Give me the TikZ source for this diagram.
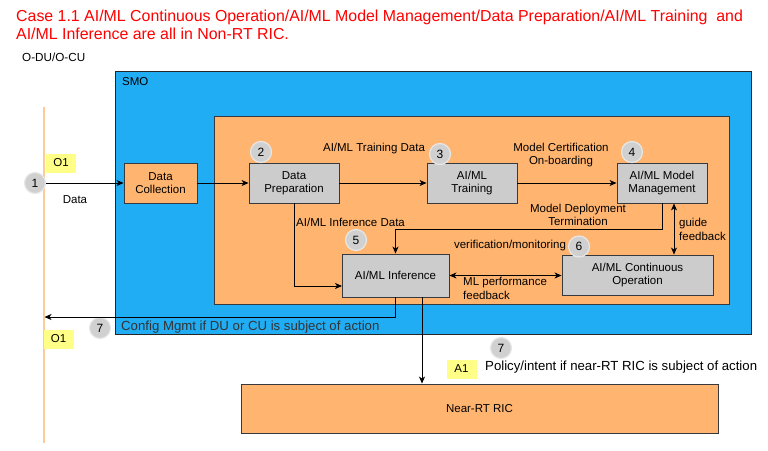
\documentclass[tikz,border=0pt]{standalone}
\usepackage{fontspec}
\setmainfont{Liberation Sans}
\usetikzlibrary{arrows.meta,calc}
\definecolor{smoblue}{HTML}{20ADF4}
\definecolor{boxorange}{HTML}{FFB570}
\definecolor{boxgray}{HTML}{CCCCCC}
\definecolor{lblyellow}{HTML}{FFFF88}
\definecolor{circgray}{HTML}{D0D0D0}
\definecolor{vlinecol}{HTML}{FFC999}
\definecolor{edgegray}{HTML}{36393D}
\begin{document}
\begin{tikzpicture}[x=1pt,y=-1pt,
  every node/.style={font=\fontsize{11.5}{13.5}\selectfont, text=black},
  box/.style={draw=edgegray, line width=0.9pt, inner sep=0pt, align=center},
  grayblock/.style={box, fill=boxgray},
  orangeblock/.style={box, fill=boxorange},
  num/.style={circle, fill=circgray, draw=circgray!50, line width=1.2pt, minimum size=21pt, inner sep=0pt, font=\fontsize{12}{14}\selectfont},
  iface/.style={fill=lblyellow, minimum width=30pt, minimum height=19pt, inner sep=0pt},
  lbl/.style={inner sep=0pt, align=center},
  lbll/.style={inner sep=0pt, align=left},
  arr/.style={-{Stealth[length=7pt,width=6pt,inset=2pt]}, line width=0.8pt},
  dbl/.style={{Stealth[length=7pt,width=6pt,inset=2pt]}-{Stealth[length=7pt,width=6pt,inset=2pt]}, line width=0.8pt}]
\useasboundingbox (0,0) rectangle (768,450);

% title
\node[anchor=base west, inner sep=0pt, text=red, font=\fontsize{15.9}{18.7}\selectfont] (title1) at (16,21) {Case 1.1 AI/ML Continuous Operation/AI/ML Model Management/Data Preparation/AI/ML Training\ \ and};
\node[anchor=base west, inner sep=0pt, text=red, font=\fontsize{15.9}{18.7}\selectfont] (title2) at (16,39.5) {AI/ML Inference are all in Non-RT RIC.};
\node[anchor=west, inner sep=0pt, font=\fontsize{11.7}{13}\selectfont] (odu) at (22,57) {O-DU/O-CU};

% vertical O-DU/O-CU line
\coordinate (vtop) at (44,107);
\coordinate (vbot) at (44,443);
\draw[vlinecol, line width=1.3pt] (vtop) -- (vbot);

% SMO
\node[draw=black!85, fill=smoblue, line width=0.9pt, minimum width=636pt, minimum height=263pt, inner sep=0pt] (smo) at (433,202.5) {};
\node[anchor=west, inner sep=0pt] (smolbl) at (122,82) {SMO};
\node[draw=edgegray, fill=boxorange, line width=0.9pt, minimum width=515pt, minimum height=188pt, inner sep=0pt] (nonrt) at (471.5,210) {};

% blocks
\node[orangeblock, minimum width=73pt, minimum height=40pt] (dc) at (160.5,183) {Data\\Collection};
\node[grayblock, minimum width=90pt, minimum height=40pt] (dp) at (294,183) {Data\\Preparation};
\node[grayblock, minimum width=90pt, minimum height=40pt] (tr) at (472,183) {AI/ML\\Training};
\node[grayblock, minimum width=90pt, minimum height=40pt] (mm) at (662,183) {AI/ML Model\\Management};
\node[grayblock, minimum width=107pt, minimum height=43pt] (inf) at (395.5,275.5) {AI/ML Inference};
\node[grayblock, minimum width=151pt, minimum height=40pt] (co) at (637.5,275) {AI/ML Continuous\\Operation};
\node[orangeblock, minimum width=477pt, minimum height=49pt] (ric) at (479.5,408.5) {Near-RT RIC};

% numbered circles
\node[num] (c1) at (35,183) {1};
\node[num] (c2) at (261,152) {2};
\node[num] (c3) at (440,154) {3};
\node[num] (c4) at (632,152) {4};
\node[num] (c5) at (356,240) {5};
\node[num] (c6) at (579,246.5) {6};
\node[num] (c7a) at (100,328) {7};
\node[num] (c7b) at (501,348) {7};

% interface labels
\node[iface] (o1a) at (61,163) {O1};
\node[iface] (o1b) at (58.5,339) {O1};
\node[iface] (a1) at (461.5,369) {A1};

% coordinates
\coordinate (dpin) at (342,286);
\coordinate (gx) at (674,0);
\coordinate (o1tip) at (44.5,317);
\coordinate (ricx) at (422,0);

% connectors
\draw[arr] (c1) -- (dc);
\draw[arr] (dc) -- (dp);
\draw[arr] (dp) -- (tr);
\draw[arr] (tr) -- (mm);
\draw[arr] (mm.south) -- ++(0,26) -| (inf.north);
\draw[arr] (dp.south) |- (dpin);
\draw[dbl] (inf.east) -- (inf.east -| co.west);
\draw[dbl] (mm.south -| gx) -- (co.north -| gx);
\draw[arr] (inf.south) |- (o1tip);
\draw[arr] (inf.south -| ricx) -- (ric.north -| ricx);

% labels
\node[lbl] (ldata) at (75,200) {Data};
\node[lbl] (ltd) at (374,149) {AI/ML Training Data};
\node[lbl] (lcert) at (561,155) {Model Certification\\On-boarding};
\node[lbl] (ldep) at (578,215) {Model Deployment\\Termination};
\node[lbl, anchor=west] (lid) at (296,222) {AI/ML Inference Data};
\node[lbl] (lver) at (510,246) {verification/monitoring};
\node[lbll, anchor=north west] (lperf) at (463,277) {ML performance\\feedback};
\node[lbll, anchor=west] (lguide) at (679,229.5) {guide\\feedback};
\node[lbl, anchor=west, text=black!80, font=\fontsize{13.2}{15}\selectfont] (lcfg) at (121,327) {Config Mgmt if DU or CU is subject of action};
\node[lbl, anchor=west, font=\fontsize{13.2}{15}\selectfont] (lpol) at (485,367) {Policy/intent if near-RT RIC is subject of action};
\end{tikzpicture}
\end{document}
